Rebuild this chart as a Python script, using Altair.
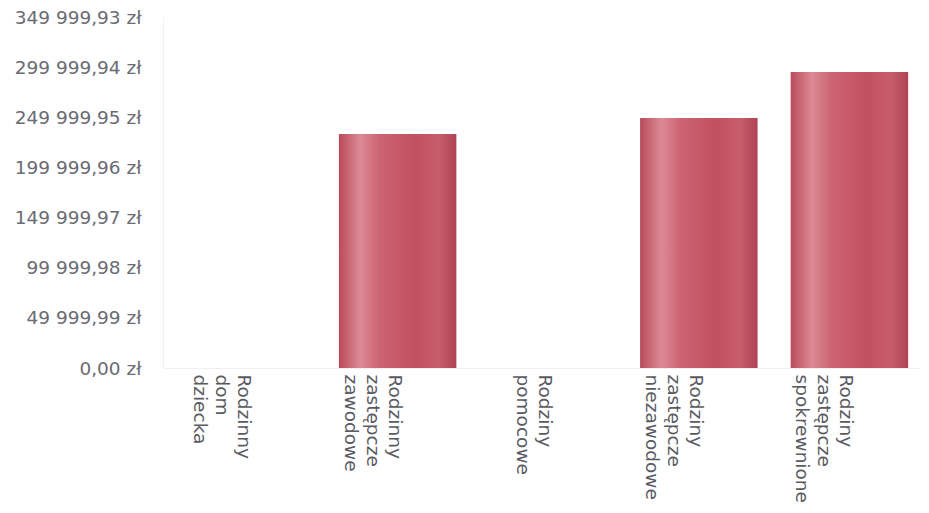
import altair as alt
import pandas as pd

categories = [
    "Rodzinny dom dziecka",
    "Rodzinny zastępcze zawodowe",
    "Rodziny pomocowe",
    "Rodziny zastępcze niezawodowe",
    "Rodziny zastępcze spokrewnione",
]
values = [0, 233300, 0, 249300, 295200]
tick_values = [0, 49999.99, 99999.98, 149999.97, 199999.96, 249999.95, 299999.94, 349999.93]

df = pd.DataFrame({"kategoria": categories, "wartosc": values})

grad = alt.LinearGradient(
    gradient="linear",
    x1=0, x2=1, y1=0, y2=0,
    stops=[
        alt.GradientStop(offset=0.0, color="#b94a5b"),
        alt.GradientStop(offset=0.18, color="#dc8a95"),
        alt.GradientStop(offset=0.35, color="#cc6373"),
        alt.GradientStop(offset=0.65, color="#c2505f"),
        alt.GradientStop(offset=0.85, color="#c85d6c"),
        alt.GradientStop(offset=1.0, color="#ad4354"),
    ],
)

bars = (
    alt.Chart(df)
    .mark_bar(color=grad)
    .encode(
        x=alt.X(
            "kategoria:N",
            sort=categories,
            title=None,
            scale=alt.Scale(paddingInner=0.22, paddingOuter=0.12, align=0.7),
            axis=alt.Axis(
                labelAngle=90,
                labelAlign="left",
                labelBaseline="middle",
                labelExpr="split(datum.label, ' ')",
                labelFont="DejaVu Sans",
                labelFontSize=18.5,
                labelLineHeight=22,
                labelColor="#5a5a62",
                labelPadding=6,
                labelOffset=-3,
                ticks=False,
                domainColor="#f0f0f0",
                grid=False,
                labelLimit=300,
            ),
        ),
        y=alt.Y(
            "wartosc:Q",
            title=None,
            scale=alt.Scale(domain=[0, 349999.93], nice=False),
            axis=alt.Axis(
                values=tick_values,
                format="$,.2f",
                labelFont="DejaVu Sans",
                labelFontSize=18.5,
                labelColor="#6b6b73",
                labelPadding=22,
                ticks=False,
                grid=False,
                domainColor="#f0f0f0",
            ),
        ),
    )
)

chart = (
    bars.properties(width=756, height=351, padding={"left": 6, "top": 0, "right": 0, "bottom": 0})
    .configure(
        locale={
            "number": {
                "decimal": ",",
                "thousands": " ",
                "grouping": [3],
                "currency": ["", " zł"],
            }
        }
    )
    .configure_view(stroke=None)
)

chart.save("out.html", embed_options={"renderer": "svg", "actions": False})
